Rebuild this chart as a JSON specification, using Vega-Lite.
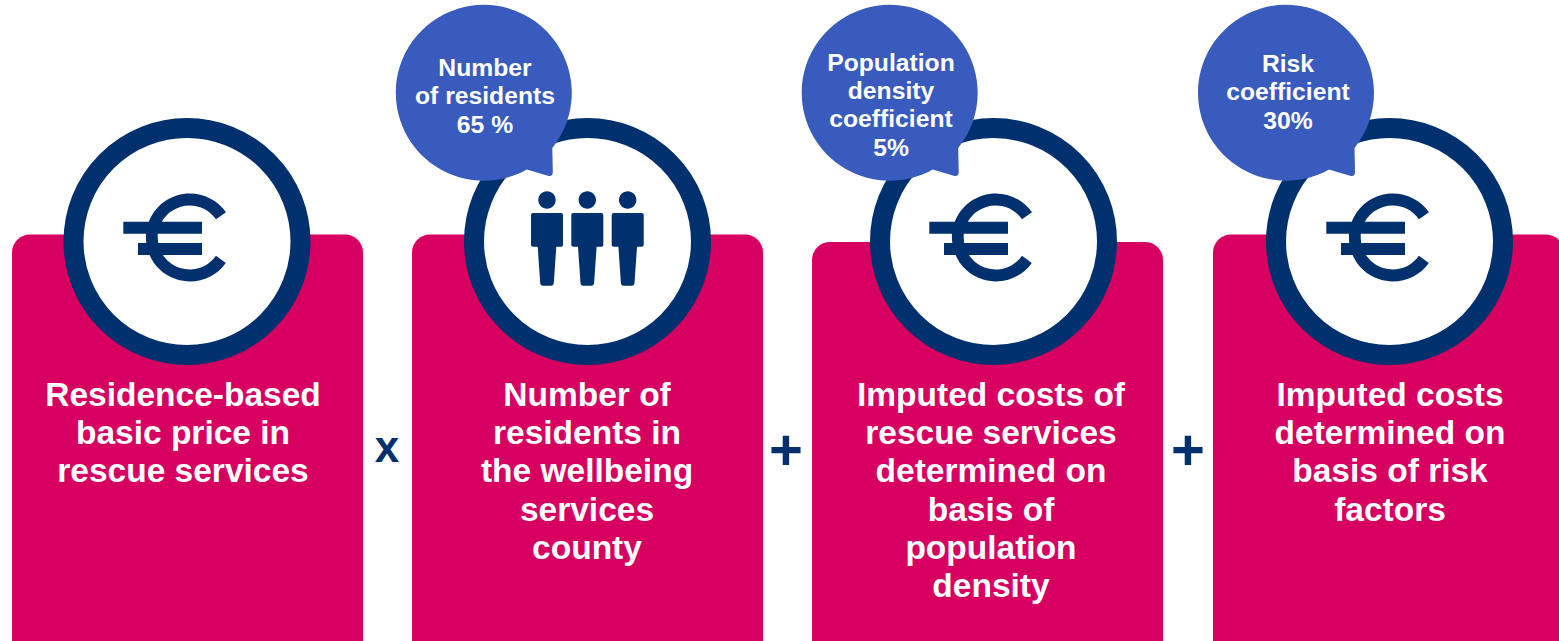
{"$schema":"https://vega.github.io/schema/vega-lite/v6.json","width":1559,"height":641,"autosize":{"type":"fit","contains":"padding"},"padding":0,"background":"#ffffff","config":{"view":{"stroke":null}},
"datasets":{
"cards":[{"left":12,"right":363,"top":234.5,"bottom":641},{"left":412,"right":763,"top":234.5,"bottom":641},{"left":812,"right":1163,"top":242,"bottom":641},{"left":1213,"right":1564,"top":234.5,"bottom":641}],
"rings":[{"x":187,"y":241.5},{"x":587.5,"y":241.5},{"x":993.5,"y":241.5},{"x":1389.5,"y":241.5}],
"euros":[{"x":190,"y":237.3},{"x":996,"y":237.3},{"x":1393,"y":237.3}],
"people":[{"x":547,"y":200},{"x":587.3,"y":200},{"x":627.7,"y":200}],
"bubbles":[{"x":483.8,"y":93},{"x":889.7,"y":93},{"x":1286,"y":93}],
"cardText":[
{"x":183,"y":396,"t":"Residence-based"},{"x":183,"y":434,"t":"basic price in"},{"x":183,"y":472,"t":"rescue services"},
{"x":587,"y":396,"t":"Number of"},{"x":587,"y":434,"t":"residents in"},{"x":587,"y":472,"t":"the wellbeing"},{"x":587,"y":511,"t":"services"},{"x":587,"y":549,"t":"county"},
{"x":991,"y":396,"t":"Imputed costs of"},{"x":991,"y":434,"t":"rescue services"},{"x":991,"y":472,"t":"determined on"},{"x":991,"y":511,"t":"basis of"},{"x":991,"y":549,"t":"population"},{"x":991,"y":587,"t":"density"},
{"x":1390,"y":396,"t":"Imputed costs"},{"x":1390,"y":434,"t":"determined on"},{"x":1390,"y":472,"t":"basis of risk"},{"x":1390,"y":511,"t":"factors"}],
"bubbleText":[
{"x":485,"y":69,"t":"Number"},{"x":485,"y":97,"t":"of residents"},{"x":485,"y":126,"t":"65 %"},
{"x":891,"y":64,"t":"Population"},{"x":891,"y":92,"t":"density"},{"x":891,"y":120,"t":"coefficient"},{"x":891,"y":149,"t":"5%"},
{"x":1288,"y":65,"t":"Risk"},{"x":1288,"y":93,"t":"coefficient"},{"x":1288,"y":122,"t":"30%"}],
"times":[{"x":387,"y":449,"t":"x"}],
"plus":[{"x":786,"y":453,"t":"+"},{"x":1188,"y":453,"t":"+"}]
},
"encoding":{
"x":{"field":"x","type":"quantitative","axis":null,"scale":{"domain":[0,1559],"nice":false,"zero":false}},
"y":{"field":"y","type":"quantitative","axis":null,"scale":{"domain":[641,0],"nice":false,"zero":false}}
},
"layer":[
{"data":{"name":"cards"},"mark":{"type":"rect","fill":"#D70060","clip":true,"cornerRadiusTopLeft":18,"cornerRadiusTopRight":18},
"encoding":{"x":{"field":"left","type":"quantitative","axis":null,"scale":{"domain":[0,1559],"nice":false,"zero":false}},"x2":{"field":"right"},"y":{"field":"top","type":"quantitative","axis":null,"scale":{"domain":[641,0],"nice":false,"zero":false}},"y2":{"field":"bottom"}}},
{"data":{"name":"rings"},"mark":{"type":"point","filled":true,"fill":"#ffffff","stroke":"#00306E","strokeWidth":20,"opacity":1,"size":51529,"shape":"circle"}},
{"data":{"name":"euros"},"mark":{"type":"point","filled":true,"fill":"#00306E","strokeWidth":0,"opacity":1,"size":4,"shape":"M36,-25 A44,44 0 1 0 35.8,25.6 L26,18.4 A32,32 0 1 1 26,-18.1 Z M-66.7,-15.6 L-66.7,-3.6 L12,-3.6 L12,-15.6 Z M-52,5.7 L-52,17.7 L12,17.7 L12,5.7 Z"}},
{"data":{"name":"people"},"mark":{"type":"point","filled":true,"fill":"#00306E","strokeWidth":0,"opacity":1,"size":4,"shape":"M-8.7,0 A8.7,8.7 0 1 1 8.7,0 A8.7,8.7 0 1 1 -8.7,0 Z M-14,13 L14,13 Q16,13 16,15 L16,45 Q16,46.7 14,46.7 L9.3,46.7 L6.8,83 Q6.5,85.7 4,85.7 L-4,85.7 Q-6.5,85.7 -6.8,83 L-9.3,46.7 L-14,46.7 Q-16,46.7 -16,45 L-16,15 Q-16,13 -14,13 Z"}},
{"data":{"name":"bubbles"},"mark":{"type":"point","filled":true,"fill":"#385BBD","strokeWidth":0,"opacity":1,"size":4,"shape":"M-88,0 A88,88 0 1 1 68.5,55 L69,79 Q69,84 64,82.7 L43,76.5 A88,88 0 0 1 -88,0 Z"}},
{"data":{"name":"cardText"},"mark":{"type":"text","font":"Liberation Sans","fontWeight":"bold","fontSize":33.5,"fill":"#ffffff","align":"center","baseline":"middle"},"encoding":{"text":{"field":"t"}}},
{"data":{"name":"bubbleText"},"mark":{"type":"text","font":"Liberation Sans","fontWeight":"bold","fontSize":24.7,"fill":"#ffffff","align":"center","baseline":"middle"},"encoding":{"text":{"field":"t"}}},
{"data":{"name":"times"},"mark":{"type":"text","font":"Liberation Sans","fontWeight":"bold","fontSize":44,"fill":"#00306E","align":"center","baseline":"middle"},"encoding":{"text":{"field":"t"}}},
{"data":{"name":"plus"},"mark":{"type":"text","font":"Liberation Sans","fontWeight":"bold","fontSize":58,"fill":"#00306E","align":"center","baseline":"middle"},"encoding":{"text":{"field":"t"}}}
]}
